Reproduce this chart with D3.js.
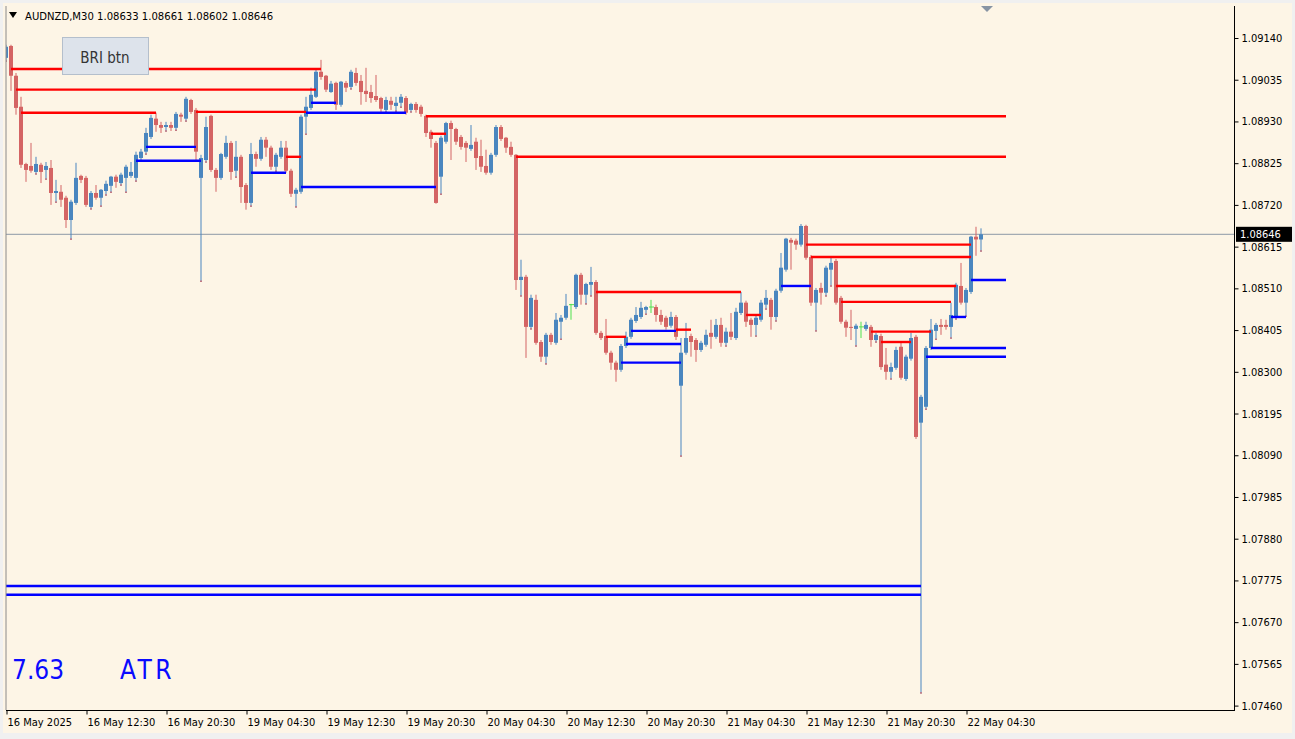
<!DOCTYPE html>
<html><head><meta charset="utf-8">
<script src="https://cdn.jsdelivr.net/npm/d3@7/dist/d3.min.js"></script>
<style>
html,body{margin:0;padding:0;background:#f0f0f0;overflow:hidden}
svg{display:block}
text{font-family:"DejaVu Sans Condensed","DejaVu Sans",sans-serif}
</style></head><body>
<svg id="c" width="1295" height="739"></svg>
<script>
// ---- data ----
const symbol = "AUDNZD,M30";
const opens = [1.09090,1.09120,1.09045,1.08967,1.08823,1.08818,1.08803,1.08821,1.08808,1.08813,1.08750,1.08753,1.08738,1.08682,1.08725,1.08793,1.08788,1.08715,1.08750,1.08738,1.08755,1.08768,1.08791,1.08775,1.08788,1.08793,1.08788,1.08838,1.08854,1.08891,1.08937,1.08921,1.08916,1.08921,1.08914,1.08947,1.08937,1.08984,1.08959,1.08788,1.08833,1.08944,1.08808,1.08788,1.08841,1.08876,1.08806,1.08841,1.08770,1.08725,1.08848,1.08836,1.08884,1.08864,1.08816,1.08841,1.08864,1.08806,1.08748,1.08753,1.08942,1.08964,1.08992,1.09055,1.09045,1.09004,1.09027,1.08972,1.09027,1.09017,1.09052,1.09032,1.09007,1.09004,1.08994,1.08989,1.08959,1.08982,1.08969,1.08977,1.08989,1.08959,1.08974,1.08967,1.08944,1.08904,1.08876,1.08791,1.08879,1.08926,1.08911,1.08891,1.08876,1.08861,1.08879,1.08843,1.08818,1.08801,1.08846,1.08916,1.08889,1.08866,1.08846,1.08531,1.08539,1.08413,1.08481,1.08375,1.08338,1.08393,1.08373,1.08426,1.08436,1.08469,1.08463,1.08544,1.08494,1.08519,1.08526,1.08398,1.08390,1.08348,1.08323,1.08305,1.08365,1.08388,1.08428,1.08438,1.08456,1.08463,1.08463,1.08443,1.08436,1.08416,1.08438,1.08265,1.08348,1.08390,1.08380,1.08355,1.08368,1.08398,1.08388,1.08418,1.08373,1.08401,1.08385,1.08448,1.08474,1.08431,1.08418,1.08431,1.08469,1.08481,1.08438,1.08504,1.08557,1.08632,1.08630,1.08620,1.08667,1.08589,1.08474,1.08511,1.08499,1.08557,1.08579,1.08486,1.08426,1.08413,1.08408,1.08413,1.08408,1.08413,1.08380,1.08390,1.08318,1.08300,1.08310,1.08363,1.08282,1.08333,1.08388,1.08172,1.08212,1.08360,1.08403,1.08418,1.08418,1.08413,1.08438,1.08516,1.08474,1.08501,1.08640,1.08633];
const highs = [1.09123,1.09123,1.09052,1.08992,1.08826,1.08876,1.08841,1.08826,1.08828,1.08833,1.08783,1.08770,1.08743,1.08733,1.08826,1.08796,1.08793,1.08755,1.08770,1.08760,1.08781,1.08793,1.08796,1.08801,1.08821,1.08828,1.08854,1.08861,1.08914,1.08947,1.08952,1.08929,1.08929,1.08929,1.08954,1.08952,1.08992,1.08987,1.08964,1.08846,1.08942,1.08947,1.08813,1.08851,1.08894,1.08881,1.08881,1.08846,1.08775,1.08876,1.08854,1.08891,1.08891,1.08869,1.08851,1.08881,1.08881,1.08811,1.08763,1.08947,1.08992,1.09015,1.09060,1.09085,1.09047,1.09032,1.09030,1.09032,1.09032,1.09060,1.09065,1.09047,1.09065,1.09022,1.09047,1.08992,1.08992,1.08992,1.08992,1.08999,1.08994,1.08977,1.08979,1.08972,1.08947,1.08909,1.08881,1.08894,1.08929,1.08932,1.08914,1.08896,1.08881,1.08921,1.08889,1.08884,1.08859,1.08851,1.08921,1.08921,1.08891,1.08879,1.08848,1.08582,1.08544,1.08494,1.08494,1.08380,1.08398,1.08398,1.08448,1.08443,1.08496,1.08471,1.08547,1.08549,1.08524,1.08564,1.08531,1.08403,1.08433,1.08353,1.08328,1.08370,1.08401,1.08436,1.08463,1.08476,1.08466,1.08481,1.08469,1.08456,1.08441,1.08451,1.08443,1.08385,1.08423,1.08396,1.08385,1.08378,1.08406,1.08431,1.08433,1.08436,1.08411,1.08448,1.08461,1.08501,1.08479,1.08436,1.08441,1.08481,1.08506,1.08486,1.08509,1.08599,1.08637,1.08637,1.08635,1.08672,1.08670,1.08594,1.08511,1.08524,1.08567,1.08587,1.08584,1.08491,1.08431,1.08456,1.08421,1.08426,1.08426,1.08418,1.08398,1.08396,1.08360,1.08323,1.08363,1.08373,1.08343,1.08398,1.08393,1.08242,1.08365,1.08433,1.08423,1.08433,1.08431,1.08474,1.08524,1.08574,1.08511,1.08642,1.08665,1.08661];
const lows = [1.09080,1.09007,1.08947,1.08813,1.08778,1.08801,1.08796,1.08775,1.08783,1.08720,1.08725,1.08715,1.08662,1.08632,1.08720,1.08775,1.08715,1.08708,1.08733,1.08715,1.08743,1.08750,1.08763,1.08768,1.08750,1.08788,1.08778,1.08833,1.08846,1.08886,1.08904,1.08901,1.08904,1.08906,1.08906,1.08929,1.08929,1.08949,1.08833,1.08526,1.08826,1.08803,1.08753,1.08783,1.08836,1.08783,1.08788,1.08725,1.08708,1.08715,1.08816,1.08831,1.08841,1.08808,1.08803,1.08836,1.08801,1.08740,1.08713,1.08748,1.08896,1.08959,1.08989,1.09035,1.09004,1.09002,1.08959,1.08967,1.09004,1.09010,1.09020,1.08972,1.08979,1.08977,1.08979,1.08952,1.08952,1.08959,1.08954,1.08964,1.08947,1.08952,1.08952,1.08942,1.08891,1.08864,1.08723,1.08745,1.08874,1.08833,1.08871,1.08859,1.08828,1.08856,1.08808,1.08803,1.08796,1.08796,1.08841,1.08881,1.08851,1.08841,1.08506,1.08489,1.08335,1.08406,1.08368,1.08325,1.08318,1.08368,1.08368,1.08380,1.08431,1.08431,1.08458,1.08469,1.08469,1.08489,1.08393,1.08380,1.08343,1.08305,1.08275,1.08300,1.08360,1.08383,1.08423,1.08433,1.08443,1.08448,1.08426,1.08418,1.08406,1.08411,1.08380,1.08086,1.08343,1.08338,1.08325,1.08350,1.08363,1.08358,1.08383,1.08363,1.08363,1.08380,1.08380,1.08443,1.08413,1.08388,1.08388,1.08426,1.08456,1.08406,1.08426,1.08499,1.08552,1.08557,1.08607,1.08615,1.08582,1.08466,1.08401,1.08469,1.08489,1.08514,1.08469,1.08421,1.08388,1.08380,1.08363,1.08385,1.08403,1.08363,1.08373,1.08305,1.08280,1.08280,1.08305,1.08280,1.08277,1.08328,1.08131,1.07490,1.08204,1.08355,1.08380,1.08393,1.08406,1.08383,1.08431,1.08469,1.08438,1.08496,1.08592,1.08602];
const closes = [1.09118,1.09045,1.08964,1.08821,1.08808,1.08806,1.08823,1.08803,1.08818,1.08750,1.08755,1.08733,1.08682,1.08728,1.08788,1.08783,1.08720,1.08750,1.08738,1.08758,1.08773,1.08791,1.08778,1.08796,1.08816,1.08803,1.08846,1.08854,1.08901,1.08939,1.08921,1.08914,1.08921,1.08914,1.08949,1.08942,1.08987,1.08954,1.08854,1.08838,1.08916,1.08808,1.08788,1.08848,1.08876,1.08803,1.08841,1.08765,1.08725,1.08848,1.08836,1.08884,1.08864,1.08816,1.08846,1.08864,1.08806,1.08748,1.08758,1.08942,1.08967,1.08997,1.09055,1.09042,1.09010,1.09025,1.08972,1.09030,1.09015,1.09055,1.09027,1.09004,1.08999,1.08989,1.08984,1.08962,1.08984,1.08972,1.08977,1.08992,1.08952,1.08974,1.08959,1.08949,1.08901,1.08886,1.08725,1.08889,1.08926,1.08911,1.08879,1.08866,1.08864,1.08871,1.08838,1.08816,1.08801,1.08846,1.08916,1.08886,1.08864,1.08846,1.08531,1.08539,1.08413,1.08486,1.08373,1.08338,1.08393,1.08375,1.08431,1.08436,1.08466,1.08469,1.08544,1.08494,1.08521,1.08526,1.08398,1.08385,1.08348,1.08323,1.08305,1.08365,1.08388,1.08431,1.08443,1.08461,1.08463,1.08463,1.08443,1.08426,1.08413,1.08438,1.08388,1.08348,1.08385,1.08375,1.08355,1.08373,1.08393,1.08388,1.08418,1.08373,1.08401,1.08388,1.08451,1.08474,1.08426,1.08418,1.08436,1.08474,1.08486,1.08438,1.08504,1.08562,1.08635,1.08625,1.08620,1.08667,1.08587,1.08474,1.08506,1.08499,1.08562,1.08574,1.08474,1.08426,1.08411,1.08411,1.08416,1.08413,1.08418,1.08380,1.08393,1.08312,1.08300,1.08312,1.08355,1.08285,1.08338,1.08385,1.08136,1.08237,1.08360,1.08406,1.08418,1.08413,1.08413,1.08443,1.08519,1.08474,1.08506,1.08640,1.08633,1.08646];

// support / resistance levels: [price, startBar, endBar]
const redLevels = [[1.09062,1,63],[1.09010,2,62],[1.08952,3,30],[1.08954,38,60],[1.08943,84,200],[1.08899,85,88],[1.08841,56,59],[1.08841,102,200],[1.08501,118,147],[1.08388,120,124],[1.08406,134,137],[1.08443,148,151],[1.08620,160,193],[1.08589,161,193],[1.08516,166,190],[1.08476,167,189],[1.08401,173,185],[1.08375,175,181]];
const blueLevels = [[1.08866,28,38],[1.08831,26,39],[1.08801,49,56],[1.08765,59,86],[1.08977,61,66],[1.08952,60,80],[1.08403,125,134],[1.08370,124,135],[1.08323,123,135],[1.08516,155,161],[1.08531,193,200],[1.08438,189,192],[1.08360,185,200],[1.08338,184,200],[1.07761,-5,183],[1.07739,-5,183]];

const yTicks = [1.07460,1.07565,1.07670,1.07775,1.07880,1.07985,1.08090,1.08195,1.08300,1.08405,1.08510,1.08615,1.08720,1.08825,1.08930,1.09035,1.09140];
const xTickLabels = ["16 May 2025","16 May 12:30","16 May 20:30","19 May 04:30","19 May 12:30","19 May 20:30","20 May 04:30","20 May 12:30","20 May 20:30","21 May 04:30","21 May 12:30","21 May 20:30","22 May 04:30"];
const barsPerLabel = 16;
const atrValue = "7.63";
const atrLabel = "ATR";
const buttonLabel = "BRI btn";

// ---- layout ----
const W = 1295, H = 739;
const P = {l:6, t:6, r:1234, b:710};
const svg = d3.select("#c");
const n = closes.length;
const bars = d3.range(n).map(i => ({i, o:opens[i], h:highs[i], l:lows[i], c:closes[i]}));

const x = d3.scaleLinear().domain([0, n - 1]).range([6, 981]);
const y = d3.scaleLinear().domain([1.0746, 1.0914]).range([705.6, 38]);

svg.append("rect").attr("x",0).attr("y",0).attr("width",W).attr("height",H).attr("fill","#f0f0f0");
svg.append("rect").attr("x",3).attr("y",3).attr("width",W-6).attr("height",H-9).attr("fill","#fdf5e6");

svg.append("defs").append("clipPath").attr("id","plot")
  .append("rect").attr("x",P.l).attr("y",P.t).attr("width",P.r-P.l).attr("height",P.b-P.t);

const g = svg.append("g").attr("clip-path","url(#plot)");

// current price line
const last = closes[n-1];
g.append("line").attr("x1",P.l).attr("x2",P.r).attr("y1",y(last)).attr("y2",y(last))
  .attr("stroke","#a3abb3").attr("stroke-width",1.2);

// candles
const bull = "#4a86bf", bear = "#d46464", doji = "#4fe24f";
const col = d => d.c > d.o ? bull : (d.c < d.o ? bear : doji);
g.selectAll("rect.wick").data(bars).join("rect").attr("class","wick")
  .attr("x", d => x(d.i) - 0.5).attr("width", 1)
  .attr("y", d => y(d.h)).attr("height", d => Math.max(1, y(d.l) - y(d.h)))
  .attr("fill", col);
g.selectAll("rect.tip").data(bars.filter(d => d.c > d.o && y(d.l) - y(Math.min(d.o,d.c)) > 2)).join("rect").attr("class","tip")
  .attr("x", d => x(d.i) - 0.5).attr("width", 1)
  .attr("y", d => y(d.l) - 1.5).attr("height", 1.5)
  .attr("fill", "#e03030");
g.selectAll("rect.body").data(bars).join("rect").attr("class","body")
  .attr("x", d => x(d.i) - 2).attr("width", d => d.c === d.o ? 0 : 4)
  .attr("y", d => y(Math.max(d.o, d.c)))
  .attr("height", d => Math.max(1, Math.abs(y(d.o) - y(d.c))))
  .attr("fill", col);
// doji horizontal ticks
g.selectAll("line.doji").data(bars.filter(d => d.c === d.o)).join("line").attr("class","doji")
  .attr("x1", d => x(d.i) - 2).attr("x2", d => x(d.i) + 3)
  .attr("y1", d => y(d.o)).attr("y2", d => y(d.o))
  .attr("stroke", doji).attr("stroke-width", 1);

// levels
function levels(data, color){
  g.selectAll(null).data(data).join("line")
    .attr("x1", d => x(d[1])).attr("x2", d => x(d[2]))
    .attr("y1", d => y(d[0])).attr("y2", d => y(d[0]))
    .attr("stroke", color).attr("stroke-width", 2.4);
}
levels(redLevels, "#ff0000");
levels(blueLevels, "#0000ff");

// frame
svg.append("line").attr("x1",P.l).attr("x2",P.l).attr("y1",P.t).attr("y2",P.b).attr("stroke","#8a8a8a");
svg.append("line").attr("x1",P.r+0.5).attr("x2",P.r+0.5).attr("y1",P.t).attr("y2",P.b).attr("stroke","#000");
svg.append("line").attr("x1",P.l).attr("x2",P.r+1).attr("y1",P.b+0.5).attr("y2",P.b+0.5).attr("stroke","#000");

// y axis
const ya = svg.append("g").attr("transform",`translate(${P.r+0.5},0)`)
  .call(d3.axisRight(y).tickValues(yTicks).tickSize(4).tickPadding(3).tickFormat(d3.format(".5f")));
ya.select(".domain").remove();
ya.selectAll("text").attr("font-size",11).attr("fill","#000").attr("font-family","DejaVu Sans Condensed, DejaVu Sans, sans-serif");
ya.selectAll("line").attr("stroke","#000");

// x axis
const xIdx = xTickLabels.map((_, k) => k * barsPerLabel);
const xa = svg.append("g").attr("transform",`translate(0,${P.b+0.5})`)
  .call(d3.axisBottom(x).tickValues(xIdx).tickSize(4).tickPadding(4).tickFormat((d,k) => xTickLabels[k]));
xa.select(".domain").remove();
xa.selectAll("line").attr("stroke","#000").attr("transform","translate(0.5,0)");
xa.selectAll("text").attr("text-anchor","start").attr("dx",1).attr("font-size",11).attr("fill","#000")
  .attr("font-family","DejaVu Sans Condensed, DejaVu Sans, sans-serif");

// current price label
const fmt = d3.format(".5f");
svg.append("rect").attr("x",P.r+2).attr("y",y(last)-7.5).attr("width",56).attr("height",15).attr("fill","#000");
svg.append("text").attr("x",P.r+6).attr("y",y(last)+4).attr("font-size",11).attr("fill","#fff").text(fmt(last));

// header
svg.append("path").attr("d","M9,12 L17,12 L13,18 Z").attr("fill","#000");
svg.append("text").attr("x",25).attr("y",20).attr("font-size",11.2).attr("fill","#000")
  .text(`${symbol}  ${fmt(opens[n-1])} ${fmt(highs[n-1])} ${fmt(lows[n-1])} ${fmt(closes[n-1])}`);

// chart shift marker
svg.append("path").attr("d","M981,6 L993,6 L987,12 Z").attr("fill","#8794a3");

// button
svg.append("rect").attr("x",62.5).attr("y",37.5).attr("width",86).attr("height",37).attr("fill","#dde3eb").attr("stroke","#b4bfcc");
svg.append("text").attr("x",105).attr("y",63).attr("text-anchor","middle").attr("font-size",15)
  .attr("font-family","DejaVu Sans, sans-serif").attr("fill","#333").text(buttonLabel);

// ATR readout
svg.append("text").attr("x",12).attr("y",679).attr("font-size",26).attr("fill","#0a0aff")
  .attr("font-family","Liberation Sans, Arial, sans-serif").text(atrValue);
svg.append("text").attr("x",120).attr("y",679).attr("font-size",26).attr("fill","#0a0aff")
  .attr("letter-spacing",3.5)
  .attr("font-family","Liberation Sans, Arial, sans-serif").text(atrLabel);
</script>
</body></html>
